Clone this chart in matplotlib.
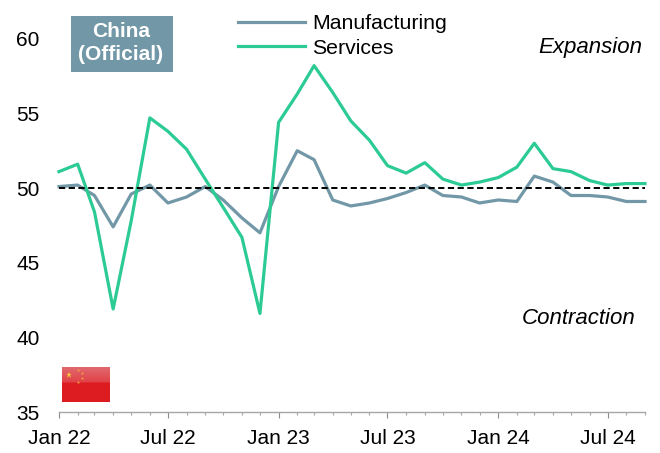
import numpy as np
import pandas as pd
import matplotlib
matplotlib.use("Agg")
import matplotlib.pyplot as plt
import matplotlib.dates as mdates

plt.rcParams['font.family'] = ['Liberation Sans', 'DejaVu Sans']

months = pd.date_range("2022-01-01", "2024-09-01", freq="MS")
manufacturing = [50.1, 50.2, 49.5, 47.4, 49.6, 50.2, 49.0, 49.4, 50.1, 49.2, 48.0, 47.0,
                 50.1, 52.5, 51.9, 49.2, 48.8, 49.0, 49.3, 49.7, 50.2, 49.5, 49.4, 49.0,
                 49.2, 49.1, 50.8, 50.4, 49.5, 49.5, 49.4, 49.1, 49.1]
services = [51.1, 51.6, 48.4, 41.9, 47.8, 54.7, 53.8, 52.6, 50.6, 48.7, 46.7, 41.6,
            54.4, 56.3, 58.2, 56.4, 54.5, 53.2, 51.5, 51.0, 51.7, 50.6, 50.2, 50.4,
            50.7, 51.4, 53.0, 51.3, 51.1, 50.5, 50.2, 50.3, 50.3]
y_ticks = [35, 40, 45, 50, 55, 60]
x_tick_dates = pd.to_datetime(["2022-01-01", "2022-07-01", "2023-01-01",
                               "2023-07-01", "2024-01-01", "2024-07-01"])
x_tick_labels = ["Jan 22", "Jul 22", "Jan 23", "Jul 23", "Jan 24", "Jul 24"]

W, H = 660, 453
fig = plt.figure(figsize=(W / 100, H / 100), dpi=100)
ax = fig.add_axes([59 / W, 1 - 412 / H, 586 / W, (412 - 10) / H])
ax.set_ylim(35, 35 + 402 / 14.93)
ax.set_xlim(months[0], months[-1])

GREY = "#7298a8"
GREEN = "#2ccb94"
ax.axhline(50, color="black", lw=1.4, dashes=(3.2, 1.8), zorder=3)
ax.plot(months, manufacturing, color=GREY, lw=2.3, label="Manufacturing", zorder=2,
        clip_on=False, solid_joinstyle="round")
ax.plot(months, services, color=GREEN, lw=2.3, label="Services", zorder=2,
        clip_on=False, solid_joinstyle="round")

for s in ("top", "right", "left"):
    ax.spines[s].set_visible(False)
ax.spines["bottom"].set_color("#a6a6a6")
ax.spines["bottom"].set_linewidth(1.0)

ax.set_yticks(y_ticks)
ax.tick_params(axis="y", length=0, labelsize=15, pad=14)
ax.set_xticks(x_tick_dates)
ax.set_xticklabels(x_tick_labels)
ax.xaxis.set_minor_locator(mdates.MonthLocator())
ax.tick_params(axis="x", which="major", length=4.5, width=0.8, color="#8c8c8c", labelsize=15, pad=7.5)
ax.tick_params(axis="x", which="minor", length=2.5, width=0.8, color="#a6a6a6")

fig.legend(*ax.get_legend_handles_labels(), loc="upper left",
           bbox_to_anchor=(238 / W, 1 - 14 / H), frameon=False, fontsize=15.3,
           handlelength=3.15, handletextpad=0.33, labelspacing=0.27,
           borderpad=0, borderaxespad=0)

fig.add_artist(plt.Rectangle((71 / W, 1 - 72 / H), 102 / W, 56 / H, transform=fig.transFigure,
                             fc=GREY, ec="none", zorder=1))
fig.text(121 / W, 1 - 43 / H, "China\n(Official)", color="white", fontsize=15, fontweight="bold",
         ha="center", va="center", linespacing=1.27, zorder=2)

fig.text(642 / W, 1 - 48 / H, "Expansion", style="italic", fontsize=16, ha="right", va="center")
fig.text(636 / W, 1 - 318.5 / H, "Contraction", style="italic", fontsize=16, ha="right", va="center")

# small flag badge
fl = fig.add_axes([62 / W, 1 - 402 / H, 47 / W, 35 / H])
fl.axis("off")
grad = np.ones((35, 47, 3))
grad[:, :, 0] = 0.87
grad[:, :, 1] = 0.11
grad[:, :, 2] = 0.13
grad[:16, :, 0] = 0.88
grad[:16, :, 1] = np.linspace(0.42, 0.26, 16)[:, None]
grad[:16, :, 2] = np.linspace(0.44, 0.28, 16)[:, None]
fl.imshow(grad, extent=(0, 47, 35, 0), aspect="auto", interpolation="bilinear")
fl.plot([7], [8], marker="*", ms=5, color="#f7c63c", mew=0)
fl.plot([16, 20, 20, 16], [3, 6, 11, 15], ls="none", marker="*", ms=2.5, color="#f0a040", mew=0)
fl.set_xlim(0, 47)
fl.set_ylim(35, 0)

fig.savefig("out.png", dpi=100)
